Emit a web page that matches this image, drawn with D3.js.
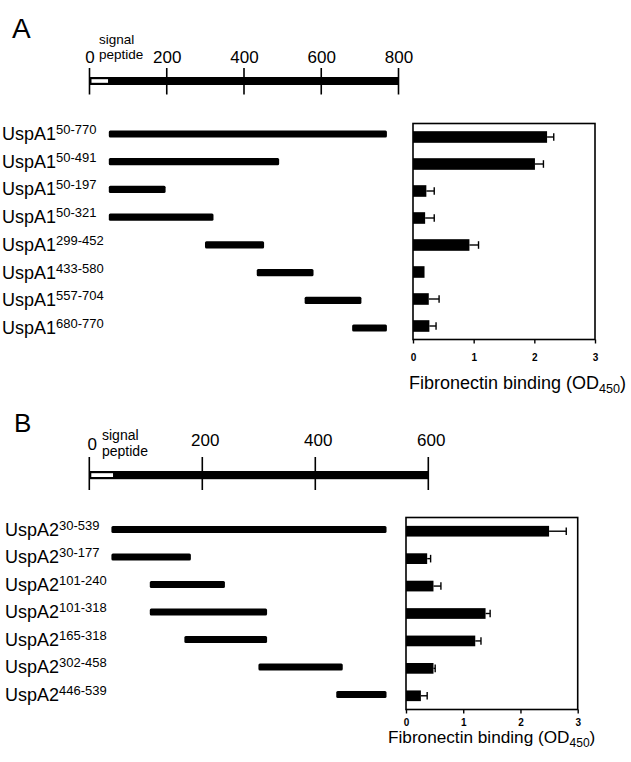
<!DOCTYPE html>
<html><head><meta charset="utf-8">
<script src="https://cdn.jsdelivr.net/npm/d3@7"></script>
<style>
body{margin:0;background:#fff}
svg{display:block;font-family:"Liberation Sans",Arial,Helvetica,sans-serif}
</style>
</head><body>
<svg id="c" width="631" height="762"></svg>
<script>
// ---------- data ----------
const rulerTicksA = [0, 200, 400, 600, 800];
const signalEndA = 48;
const namesA = ["UspA1","UspA1","UspA1","UspA1","UspA1","UspA1","UspA1","UspA1"];
const rangesA = ["50-770","50-491","50-197","50-321","299-452","433-580","557-704","680-770"];
const startsA = [50, 50, 50, 50, 299, 433, 557, 680];
const endsA   = [770, 491, 197, 321, 452, 580, 704, 770];
const bindingA = [2.21, 2.01, 0.22, 0.20, 0.93, 0.19, 0.26, 0.27];
const errorA   = [0.11, 0.14, 0.13, 0.15, 0.15, 0.00, 0.17, 0.11];

const rulerTicksB = [0, 200, 400, 600];
const signalEndB = 42;
const namesB = ["UspA2","UspA2","UspA2","UspA2","UspA2","UspA2","UspA2"];
const rangesB = ["30-539","30-177","101-240","101-318","165-318","302-458","446-539"];
const startsB = [30, 30, 101, 101, 165, 302, 446];
const endsB   = [539, 177, 240, 318, 318, 458, 539];
const bindingB = [2.50, 0.37, 0.48, 1.39, 1.21, 0.48, 0.26];
const errorB   = [0.30, 0.06, 0.13, 0.08, 0.10, 0.03, 0.11];

const bindingTicks = [0, 1, 2, 3];
const panelLetters = ["A", "B"];
const axisTitle = "Fibronectin binding (OD";
const axisTitleSub = "450";

// ---------- drawing ----------
const svg = d3.select("#c");

function drawPanel(p) {
  const g = svg.append("g");
  g.append("text").attr("x", p.letterX).attr("y", p.letterY)
    .attr("font-size", p.letterSize).text(p.letter);

  // ruler
  const rx = d3.scaleLinear().domain([0, p.rulerMax]).range(p.rulerRange);
  g.append("rect").attr("x", rx(0)).attr("y", p.rulerY)
    .attr("width", rx(p.rulerMax) - rx(0)).attr("height", p.rulerH).attr("fill", "#000");
  g.append("rect").attr("x", rx(0) + 2).attr("y", p.rulerY + 2.2)
    .attr("width", rx(p.signalEnd) - rx(0) - 2).attr("height", p.rulerH - 4.4).attr("fill", "#fff");
  g.selectAll(".rt").data(p.rulerTicks).join("line")
    .attr("x1", d => rx(d)).attr("x2", d => rx(d))
    .attr("y1", p.tickTop).attr("y2", p.tickBottom)
    .attr("stroke", "#000").attr("stroke-width", 1.6);
  g.selectAll(".rl").data(p.rulerTicks).join("text")
    .attr("x", d => rx(d) + p.rulerLabelDx).attr("y", (d, i) => p.rulerLabelY + (i === 0 ? p.zeroDy : 0))
    .attr("text-anchor", "middle").attr("font-size", 17).text(d => d);
  g.append("text").attr("x", p.sigX).attr("y", p.sigY1).attr("font-size", p.sigSize).text("signal");
  g.append("text").attr("x", p.sigX).attr("y", p.sigY2).attr("font-size", p.sigSize).text("peptide");

  // fragments
  const n = p.names.length;
  const idx = d3.range(n);
  const fx = d3.scaleLinear().domain([0, p.rulerMax]).range(p.fragRange);
  const fy = d3.scalePoint().domain(idx).range(p.fragRows);
  g.selectAll(".fb").data(idx).join("rect")
    .attr("x", i => fx(p.starts[i])).attr("y", i => fy(i) - 3.6)
    .attr("width", i => fx(p.ends[i]) - fx(p.starts[i])).attr("height", 7.2)
    .attr("rx", 1.5).attr("fill", "#000");
  const lbl = g.selectAll(".lb").data(idx).join("text")
    .attr("x", p.labelX).attr("y", i => fy(i) + 6).attr("font-size", 18);
  lbl.append("tspan").text(i => p.names[i]);
  lbl.append("tspan").attr("font-size", 13).attr("dy", -6).text(i => p.ranges[i]);

  // binding chart
  const bx = d3.scaleLinear().domain([0, 3]).range(p.chartX);
  const by = d3.scaleBand().domain(idx).range(p.chartY)
    .paddingInner(p.pad).paddingOuter(p.pad / 2);
  const bw = by.bandwidth();
  g.append("rect").attr("x", bx(0)).attr("y", p.chartY[0])
    .attr("width", bx(3) - bx(0)).attr("height", p.chartY[1] - p.chartY[0])
    .attr("fill", "none").attr("stroke", "#000").attr("stroke-width", 1.6);
  g.selectAll(".bb").data(idx).join("rect")
    .attr("x", bx(0)).attr("y", i => by(i))
    .attr("width", i => bx(p.binding[i]) - bx(0)).attr("height", bw).attr("fill", "#000");
  const eb = idx.filter(i => p.errors[i] > 0);
  g.selectAll(".el").data(eb).join("line")
    .attr("x1", i => bx(p.binding[i])).attr("x2", i => bx(p.binding[i] + p.errors[i]))
    .attr("y1", i => by(i) + bw / 2).attr("y2", i => by(i) + bw / 2)
    .attr("stroke", "#000").attr("stroke-width", 1.4);
  g.selectAll(".ec").data(eb).join("line")
    .attr("x1", i => bx(p.binding[i] + p.errors[i])).attr("x2", i => bx(p.binding[i] + p.errors[i]))
    .attr("y1", i => by(i) + bw / 2 - 3.8).attr("y2", i => by(i) + bw / 2 + 3.8)
    .attr("stroke", "#000").attr("stroke-width", 1.4);

  const ax = g.append("g").attr("transform", `translate(0,${p.chartY[1]})`)
    .call(d3.axisBottom(bx).tickValues(bindingTicks).tickSize(4).tickFormat(d3.format("d")));
  ax.select(".domain").remove();
  ax.selectAll("line").attr("stroke-width", 1.4);
  ax.selectAll("text").attr("y", p.tickLabelDy).attr("dy", 0)
    .attr("font-size", 10).attr("font-weight", "bold")
    .attr("font-family", "\"Liberation Sans\",Arial,sans-serif").attr("fill", "#000");

  const t = g.append("text").attr("x", p.titleX).attr("y", p.titleY).attr("font-size", p.titleSize);
  t.append("tspan").text(axisTitle);
  t.append("tspan").attr("font-size", p.titleSize * 0.7).attr("dy", 4).text(axisTitleSub);
  t.append("tspan").attr("dy", -4).text(")");
}

drawPanel({
  letter: panelLetters[0], letterX: 12, letterY: 38, letterSize: 28,
  rulerMax: 800, rulerRange: [89.5, 398.5], rulerTicks: rulerTicksA, signalEnd: signalEndA,
  rulerY: 77, rulerH: 8, tickTop: 68, tickBottom: 94.5, rulerLabelY: 62.5, rulerLabelDx: 0.5, zeroDy: 0,
  sigX: 99, sigY1: 44, sigY2: 59, sigSize: 13.5,
  names: namesA, ranges: rangesA, starts: startsA, ends: endsA,
  fragRange: [89.5, 398.5], fragRows: [134, 328], labelX: 2,
  binding: bindingA, errors: errorA,
  chartX: [413, 595], chartY: [123.5, 339.5], pad: 0.57, tickLabelDy: 21,
  titleX: 409, titleY: 389, titleSize: 18
});

drawPanel({
  letter: panelLetters[1], letterX: 14, letterY: 432, letterSize: 26,
  rulerMax: 600, rulerRange: [89.3, 428.3], rulerTicks: rulerTicksB, signalEnd: signalEndB,
  rulerY: 471, rulerH: 8.2, tickTop: 457, tickBottom: 490, rulerLabelY: 446, rulerLabelDx: 3, zeroDy: 4,
  sigX: 102, sigY1: 440, sigY2: 456, sigSize: 14,
  names: namesB, ranges: rangesB, starts: startsB, ends: endsB,
  fragRange: [95.2, 419.5], fragRows: [529.5, 694.5], labelX: 5,
  binding: bindingB, errors: errorB,
  chartX: [406, 577.7], chartY: [517.5, 709.5], pad: 0.61, tickLabelDy: 16,
  titleX: 388, titleY: 742.5, titleSize: 17.2
});
</script>
</body></html>
